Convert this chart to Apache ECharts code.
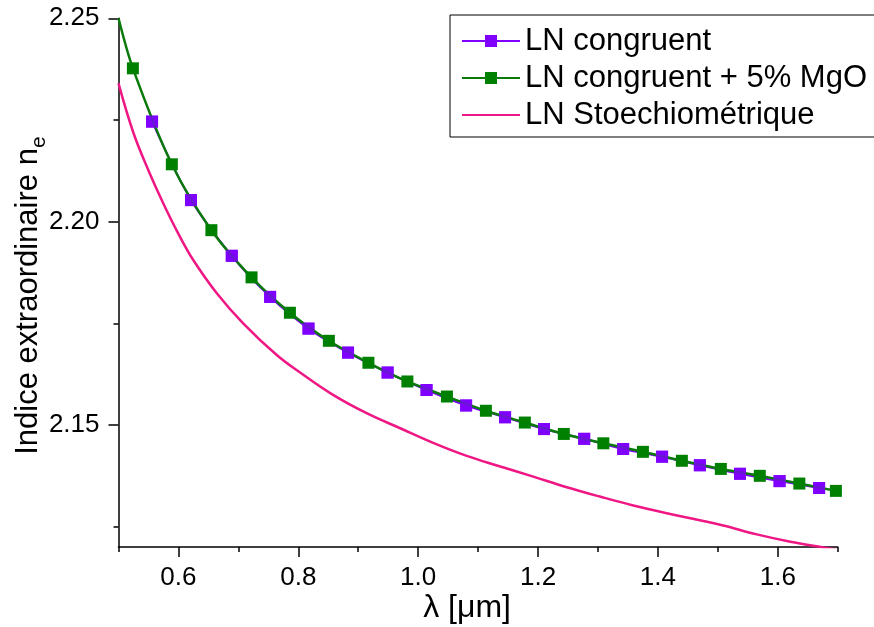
<!DOCTYPE html>
<html>
<head>
<meta charset="utf-8">
<script src="https://cdn.jsdelivr.net/npm/echarts@6/dist/echarts.min.js"></script>
<style>
html,body{margin:0;padding:0;background:#fff;}
#chart{width:874px;height:627px;}
</style>
</head>
<body>
<div id="chart"></div>
<script>
// ---- data ----
const seriesNames = ['LN congruent', 'LN congruent + 5% MgO', 'LN Stoechiométrique'];

const congruentX = [0.556, 0.621, 0.689, 0.753, 0.817, 0.883, 0.949, 1.014, 1.080, 1.145, 1.210, 1.277, 1.342, 1.407, 1.470, 1.537, 1.603, 1.669];
const congruentY = [2.2246, 2.2053, 2.1916, 2.1815, 2.1737, 2.1678, 2.1629, 2.1586, 2.1548, 2.1519, 2.1490, 2.1466, 2.1441, 2.1422, 2.1401, 2.1380, 2.1362, 2.1345];

const mgoX = [0.500, 0.524, 0.589, 0.655, 0.722, 0.786, 0.851, 0.917, 0.982, 1.048, 1.113, 1.178, 1.243, 1.309, 1.375, 1.440, 1.505, 1.570, 1.636, 1.697];
const mgoY = [2.2500, 2.2377, 2.2141, 2.1979, 2.1863, 2.1776, 2.1707, 2.1653, 2.1607, 2.1570, 2.1535, 2.1506, 2.1478, 2.1455, 2.1434, 2.1412, 2.1392, 2.1375, 2.1356, 2.1338];

const stoechX = [0.500, 0.525, 0.550, 0.575, 0.600, 0.625, 0.664, 0.708, 0.764, 0.803, 0.858, 0.914, 0.970, 1.025, 1.081, 1.137, 1.192, 1.248, 1.303, 1.359, 1.415, 1.470, 1.509, 1.565, 1.621, 1.676, 1.700];
const stoechY = [2.2340, 2.2218, 2.2126, 2.2044, 2.1970, 2.1905, 2.1824, 2.1750, 2.1672, 2.1629, 2.1574, 2.1529, 2.1492, 2.1456, 2.1424, 2.1398, 2.1373, 2.1347, 2.1324, 2.1302, 2.1283, 2.1266, 2.1253, 2.1231, 2.1213, 2.1199, 2.1193];

const xMajorTicks = [0.6, 0.8, 1.0, 1.2, 1.4, 1.6];
const xMinorTicks = [0.5, 0.6, 0.7, 0.8, 0.9, 1.0, 1.1, 1.2, 1.3, 1.4, 1.5, 1.6, 1.7];
const yMajorTicks = [2.15, 2.20, 2.25];
const yMinorTicks = [2.125, 2.175, 2.225];

// ---- chart ----
const FONT = '"Liberation Sans", Arial, sans-serif';
const pair = (xs, ys) => xs.map((x, i) => [x, ys[i]]);
const mgoData = pair(mgoX, mgoY).map((p, i) => i === 0 ? {value: p, symbol: 'none'} : p);

const chart = echarts.init(document.getElementById('chart'));
const axisLineStyle = {color: '#000', width: 1.5};

chart.setOption({
  animation: false,
  backgroundColor: '#fff',
  grid: {left: 118.5, right: 36.3, top: 18.3, bottom: 80, containLabel: false, outerBoundsMode: 'none'},
  legend: {
    data: [
      {name: seriesNames[0]},
      {name: seriesNames[1]},
      {name: seriesNames[2], itemStyle: {opacity: 0}}
    ],
    orient: 'vertical',
    left: 450, top: 15,
    itemWidth: 58, itemHeight: 15,
    itemGap: 5,
    padding: [10, 12, 6, 11],
    borderColor: '#000', borderWidth: 1,
    textStyle: {fontFamily: FONT, fontSize: 31, color: '#000', lineHeight: 32}
  },
  xAxis: [{
    type: 'value', min: 0.5, max: 1.7, interval: 0.1,
    splitLine: {show: false},
    axisLine: {lineStyle: axisLineStyle},
    axisTick: {customValues: xMajorTicks, length: 10, lineStyle: axisLineStyle},
    axisLabel: {customValues: xMajorTicks, margin: 18, fontFamily: FONT, fontSize: 26, color: '#000',
      formatter: v => v.toFixed(1)},
    name: 'λ [μm]', nameLocation: 'middle', nameGap: 45, nameMoveOverlap: false,
    nameTextStyle: {fontFamily: FONT, fontSize: 32, color: '#000', padding: [0, 22, 0, 0]}
  }, {
    type: 'value', min: 0.5, max: 1.7, position: 'bottom',
    splitLine: {show: false},
    axisLine: {show: false},
    axisTick: {customValues: xMinorTicks, length: 5, lineStyle: axisLineStyle},
    axisLabel: {show: false}
  }],
  yAxis: [{
    type: 'value', min: 2.12, max: 2.25,
    splitLine: {show: false},
    axisLine: {show: true, lineStyle: axisLineStyle},
    axisTick: {show: true, customValues: yMajorTicks, length: 10, lineStyle: axisLineStyle},
    axisLabel: {customValues: yMajorTicks, margin: 19, fontFamily: FONT, fontSize: 26, color: '#000',
      formatter: v => v.toFixed(2)},
    name: 'Indice extraordinaire n{sub|e}', nameLocation: 'middle', nameGap: 75, nameMoveOverlap: false,
    nameTextStyle: {fontFamily: FONT, fontSize: 31, color: '#000', padding: [0, 26, 0, 0],
      rich: {sub: {fontFamily: FONT, fontSize: 21, color: '#000', verticalAlign: 'bottom', padding: [0, 0, -6, 0]}}}
  }, {
    type: 'value', min: 2.12, max: 2.25, position: 'left',
    splitLine: {show: false},
    axisLine: {show: false},
    axisTick: {show: true, customValues: yMinorTicks, length: 5, lineStyle: axisLineStyle},
    axisLabel: {show: false}
  }],
  series: [{
    name: seriesNames[0], type: 'line', smooth: 0.3, z: 2,
    data: pair(congruentX, congruentY),
    symbol: 'rect', symbolSize: 12,
    itemStyle: {color: '#8000ff'},
    lineStyle: {color: '#8000ff', width: 2}
  }, {
    name: seriesNames[1], type: 'line', smooth: 0.3, z: 3,
    data: mgoData,
    symbol: 'rect', symbolSize: 12,
    itemStyle: {color: '#008000'},
    lineStyle: {color: '#0a7a0a', width: 2.5}
  }, {
    name: seriesNames[2], type: 'line', smooth: 0.4, z: 2,
    data: pair(stoechX, stoechY),
    symbol: 'none',
    itemStyle: {color: '#ee1784'},
    lineStyle: {color: '#ee1784', width: 2.5}
  }, {
    name: seriesNames[0], type: 'scatter', z: 4,
    data: pair(congruentX, congruentY),
    symbol: 'rect', symbolSize: 12,
    itemStyle: {color: '#8000ff'}
  }]
});
</script>
</body>
</html>
